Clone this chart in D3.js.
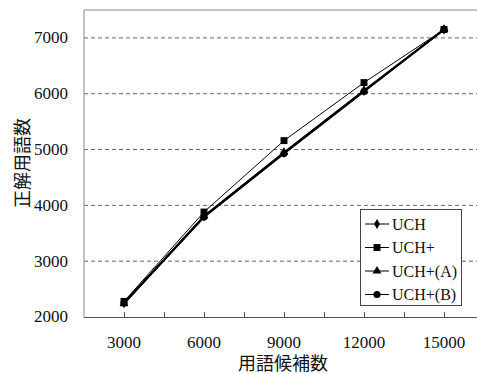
<!DOCTYPE html>
<html>
<head>
<meta charset="utf-8">
<script src="https://cdn.jsdelivr.net/npm/d3@7"></script>
<style>
  body { margin: 0; background: #fff; }
  svg { display: block; }
</style>
</head>
<body>
<div id="chart"></div>
<script>
const candidates = [3000, 6000, 9000, 12000, 15000];
const uch = [2250, 3800, 4940, 6050, 7150];
const uchPlus = [2280, 3880, 5160, 6200, 7150];
const uchA = [2240, 3810, 4950, 6060, 7150];
const uchB = [2250, 3790, 4930, 6040, 7150];
const yTicks = [2000, 3000, 4000, 5000, 6000, 7000];
const xTicks = [3000, 4500, 6000, 7500, 9000, 10500, 12000, 13500, 15000];

const width = 477, height = 374;
const margin = { top: 10, right: -7, bottom: 57, left: 84 };
const innerWidth = width - margin.left - margin.right;
const innerHeight = height - margin.top - margin.bottom;

const svg = d3.select("#chart").append("svg")
  .attr("width", width)
  .attr("height", height);

const g = svg.append("g")
  .attr("transform", "translate(" + margin.left + "," + margin.top + ")");

const x = d3.scaleLinear().domain([1500, 16500]).range([0, innerWidth]);
const y = d3.scaleLinear().domain([2000, 7500]).range([innerHeight, 0]);

const serif = "'Liberation Serif', 'Times New Roman', serif";
const cjk = "'Noto Sans CJK JP', sans-serif";

// gridlines
g.selectAll(".grid")
  .data(yTicks.slice(1))
  .enter()
  .append("line")
  .attr("x1", 0)
  .attr("x2", width - margin.left)
  .attr("y1", (d) => y(d))
  .attr("y2", (d) => y(d))
  .attr("stroke", "#666")
  .attr("stroke-width", 1)
  .attr("stroke-dasharray", "4,3");

// frame: top, left
g.append("line").attr("x1", 0).attr("x2", width - margin.left).attr("y1", 0).attr("y2", 0)
  .attr("stroke", "#888");
g.append("line").attr("x1", 0).attr("x2", 0).attr("y1", 0).attr("y2", innerHeight)
  .attr("stroke", "#888");

// x axis: baseline plus inward ticks
g.append("line")
  .attr("x1", 0).attr("x2", width - margin.left)
  .attr("y1", innerHeight + 0.5).attr("y2", innerHeight + 0.5)
  .attr("stroke", "#555");
g.selectAll(".xtick")
  .data(xTicks)
  .enter()
  .append("line")
  .attr("x1", (d) => Math.round(x(d)) + 0.5)
  .attr("x2", (d) => Math.round(x(d)) + 0.5)
  .attr("y1", innerHeight)
  .attr("y2", innerHeight - 5)
  .attr("stroke", "#555");

g.selectAll(".xlabel")
  .data(candidates)
  .enter()
  .append("text")
  .attr("x", (d) => x(d))
  .attr("y", innerHeight + 31)
  .attr("text-anchor", "middle")
  .style("font-family", serif)
  .style("font-size", "17px")
  .attr("fill", "#111")
  .text((d) => d);

// y labels
g.selectAll(".ylabel")
  .data(yTicks)
  .enter()
  .append("text")
  .attr("x", -16)
  .attr("y", (d) => y(d))
  .attr("dy", "0.32em")
  .attr("text-anchor", "end")
  .style("font-family", serif)
  .style("font-size", "17px")
  .attr("fill", "#111")
  .text((d) => d);

// axis titles
svg.append("text")
  .attr("transform", "translate(29,163) rotate(-90)")
  .attr("text-anchor", "middle")
  .style("font-family", cjk)
  .style("font-size", "18px")
  .attr("fill", "#111")
  .text("正解用語数");

svg.append("text")
  .attr("x", 283)
  .attr("y", 370)
  .attr("text-anchor", "middle")
  .style("font-family", cjk)
  .style("font-size", "18px")
  .attr("fill", "#111")
  .text("用語候補数");

const series = [
  { name: "UCH", values: uch, marker: d3.symbolDiamond, size: 30, width: 2 },
  { name: "UCH+", values: uchPlus, marker: d3.symbolSquare, size: 48, width: 1 },
  { name: "UCH+(A)", values: uchA, marker: d3.symbolTriangle, size: 34, width: 1.6 },
  { name: "UCH+(B)", values: uchB, marker: d3.symbolCircle, size: 40, width: 2 }
];

const line = d3.line()
  .x((d, i) => x(candidates[i]))
  .y((d) => y(d));

series.forEach((s) => {
  g.append("path")
    .datum(s.values)
    .attr("fill", "none")
    .attr("stroke", "#000")
    .attr("stroke-width", s.width)
    .attr("d", line);
  g.selectAll(null)
    .data(s.values)
    .enter()
    .append("path")
    .attr("transform", (d, i) => "translate(" + x(candidates[i]) + "," + y(d) + ")")
    .attr("d", d3.symbol().type(s.marker).size(s.size))
    .attr("fill", "#000");
});

// legend
const legend = svg.append("g").attr("transform", "translate(360,209)");
legend.append("rect")
  .attr("x", 0.5)
  .attr("y", 0.5)
  .attr("width", 101)
  .attr("height", 96)
  .attr("fill", "#fff")
  .attr("stroke", "#444");

series.forEach((s, i) => {
  const row = legend.append("g").attr("transform", "translate(0," + (15 + i * 23.5) + ")");
  row.append("line")
    .attr("x1", 5).attr("x2", 29)
    .attr("stroke", "#000")
    .attr("stroke-width", 1);
  row.append("path")
    .attr("transform", "translate(17,0)")
    .attr("d", d3.symbol().type(s.marker).size(s.size))
    .attr("fill", "#000");
  row.append("text")
    .attr("x", 32)
    .attr("y", 5.5)
    .style("font-family", serif)
    .style("font-size", "16px")
    .attr("fill", "#111")
    .text(s.name);
});
</script>
</body>
</html>
